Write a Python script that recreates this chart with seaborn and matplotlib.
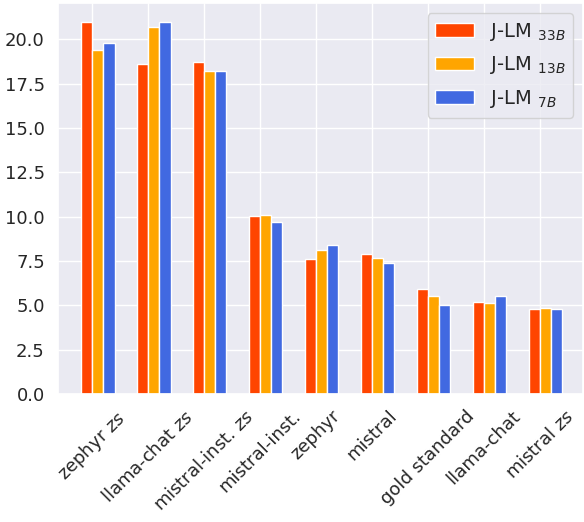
import matplotlib
matplotlib.use('Agg')

import matplotlib.pyplot as plt
import seaborn as sns
import numpy as np
import pandas as pd

# data
models = ["zephyr $zs$", "llama-chat $zs$", "mistral-inst. $zs$", "mistral-inst.",
          "zephyr", "mistral", "gold standard", "llama-chat", "mistral $zs$"]
judges = ["J-LM $_{33B}$", "J-LM $_{13B}$", "J-LM $_{7B}$"]
scores_33b = [21.0, 18.6, 18.7, 10.05, 7.6, 7.9, 5.9, 5.2, 4.8]
scores_13b = [19.4, 20.7, 18.2, 10.1, 8.1, 7.65, 5.55, 5.15, 4.85]
scores_7b = [19.8, 21.0, 18.2, 9.7, 8.4, 7.4, 5.0, 5.5, 4.8]
colors = ["orangered", "orange", "royalblue"]

df = pd.DataFrame({
    "model": models * 3,
    "judge": [judges[0]] * 9 + [judges[1]] * 9 + [judges[2]] * 9,
    "score": scores_33b + scores_13b + scores_7b,
})

sns.set_theme(style="darkgrid")

fig, ax = plt.subplots(figsize=(5.84, 5.22), dpi=100)
sns.barplot(data=df, x="model", y="score", hue="judge", hue_order=judges,
            palette=colors, width=0.6, edgecolor="white", linewidth=1,
            saturation=1, ax=ax)

# ticks sit between first and second bar of each group
ax.set_xticks(np.arange(len(models)) - 0.1)
ax.set_xticklabels(models, rotation=45, fontsize=13)
ax.tick_params(axis="y", labelsize=13)
ax.grid(True, axis="both")
ax.set_axisbelow(True)
ax.set_xlim(-0.71, 8.67)
ax.set_ylim(0, 22.05)
ax.set_xlabel("")
ax.set_ylabel("")

handles, labels = ax.get_legend_handles_labels()
ax.legend(handles, labels, loc="upper right", fontsize=14, labelspacing=0.6)

fig.subplots_adjust(left=58 / 584, right=583 / 584, top=1 - 3 / 522, bottom=1 - 394 / 522)
plt.savefig("out.png")
plt.close(fig)
